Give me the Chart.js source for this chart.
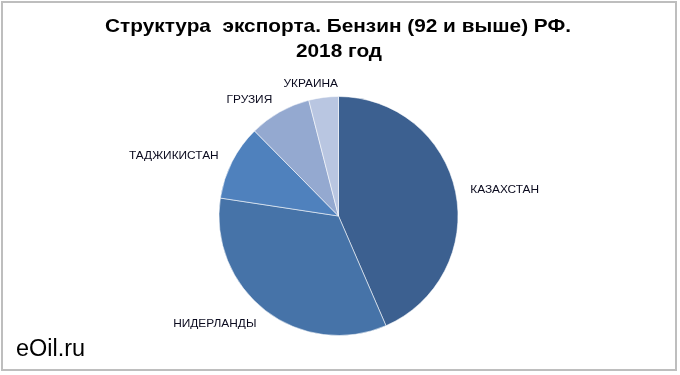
<!DOCTYPE html>
<html>
<head>
<meta charset="utf-8">
<script src="https://cdn.jsdelivr.net/npm/chart.js@4"></script>
<style>
  html, body { margin: 0; padding: 0; background: #fff; }
  #wrap { position: relative; width: 680px; height: 375px; }
  #frame { position: absolute; left: 1px; top: 1px; width: 672px; height: 366px; border: 2px solid #BEBEBE; pointer-events: none; }
</style>
</head>
<body>
<div id="wrap">
  <canvas id="c" width="680" height="375"></canvas>
  <div id="frame"></div>
</div>
<script>
const titleLines = ['Структура  экспорта. Бензин (92 и выше) РФ.', '2018 год'];
const categories = ['КАЗАХСТАН', 'НИДЕРЛАНДЫ', 'ТАДЖИКИСТАН', 'ГРУЗИЯ', 'УКРАИНА'];
const shares = [43.5, 33.9, 10.2, 8.4, 4.0];
const sliceColors = ['#3C6090', '#4673A8', '#4F81BD', '#94A9D0', '#B9C6E1'];
const watermark = 'eOil.ru';

const FONT = '"Liberation Sans", Arial, sans-serif';

// draw text stretched horizontally by sx; fx = fraction of width left of x (0 left, 0.5 center, 1 right)
function stretchText(ctx, text, x, y, fx, sx) {
  const w = ctx.measureText(text).width * sx;
  ctx.save();
  ctx.translate(x - w * fx, y);
  ctx.scale(sx, 1);
  ctx.textAlign = 'left';
  ctx.fillText(text, 0, 0);
  ctx.restore();
}

const decor = {
  id: 'decor',
  afterDraw(chart) {
    const ctx = chart.ctx;
    ctx.save();
    ctx.fillStyle = '#000';
    ctx.textBaseline = 'alphabetic';
    // title
    ctx.font = 'bold 19px ' + FONT;
    stretchText(ctx, titleLines[0], 338, 32, 0.5, 1.095);
    stretchText(ctx, titleLines[1], 339, 57, 0.5, 1.095);
    // watermark
    ctx.font = '23px ' + FONT;
    stretchText(ctx, watermark, 16, 356, 0, 1.02);
    // slice labels
    const meta = chart.getDatasetMeta(0);
    ctx.font = '11px ' + FONT;
    ctx.fillStyle = '#0A0A1E';
    ctx.textBaseline = 'middle';
    meta.data.forEach((arc, i) => {
      const mid = (arc.startAngle + arc.endAngle) / 2;
      const R = arc.outerRadius + 15;
      const px = arc.x + Math.cos(mid) * R;
      const py = arc.y + Math.sin(mid) * R;
      let f = (1 - 3.2 * Math.cos(mid)) / 2;
      f = Math.max(0, Math.min(1, f));
      stretchText(ctx, categories[i], px, py + 1, f, 1.08);
    });
    ctx.restore();
  }
};

new Chart(document.getElementById('c'), {
  type: 'pie',
  data: {
    labels: categories,
    datasets: [{
      data: shares,
      backgroundColor: sliceColors,
      borderColor: 'rgba(255,255,255,0.55)',
      borderWidth: 1
    }]
  },
  options: {
    responsive: false,
    animation: false,
    layout: { padding: { top: 96, bottom: 39, left: 100, right: 103 } },
    plugins: {
      legend: { display: false },
      title: { display: false },
      tooltip: { enabled: false }
    }
  },
  plugins: [decor]
});
</script>
</body>
</html>
